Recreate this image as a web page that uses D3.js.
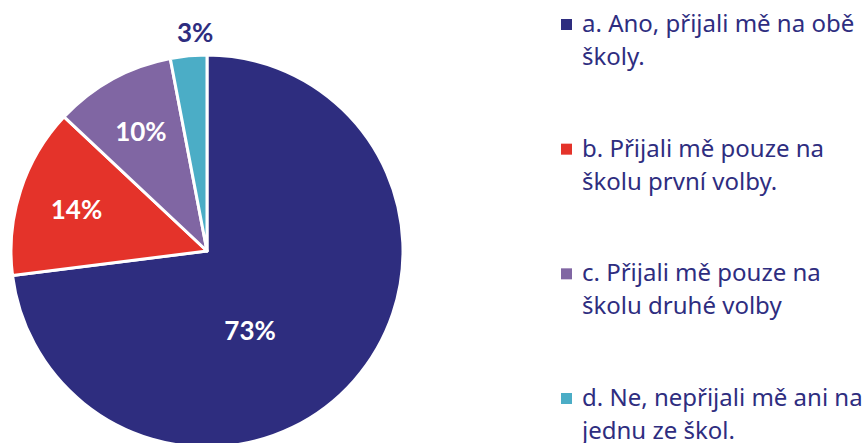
<!DOCTYPE html>
<html>
    <head>
        <meta charset="utf-8">
        <title>Přijetí na školy</title>
        <script type="text/javascript" src="https://cdn.jsdelivr.net/npm/d3@7"></script>
        <style type="text/css">
            body { margin: 0; background: #fff; }
            .legend text { font-family: "Noto Sans", sans-serif; font-size: 24px; fill: #2e2d7f; }
            .label { font-family: Lato, sans-serif; font-weight: bold; font-size: 26px; }
        </style>
    </head>
    <body>
        <script type="text/javascript">
            // Data
            var categories = ["a", "b", "c", "d"];
            var values = [73, 14, 10, 3];
            var valueLabels = ["73%", "14%", "10%", "3%"];
            var legendLines = [
                ["a. Ano, přijali mě na obě", "školy."],
                ["b. Přijali mě pouze na", "školu první volby."],
                ["c. Přijali mě pouze na", "školu druhé volby"],
                ["d. Ne, nepřijali mě ani na", "jednu ze škol."]
            ];

            var w = 868;
            var h = 443;
            var cx = 207, cy = 251, r = 196;

            var color = d3.scaleOrdinal()
                .domain(categories)
                .range(["#2e2d7f", "#e4332a", "#8066a3", "#4badc6"]);

            var svg = d3.select("body")
                        .append("svg")
                        .attr("width", w)
                        .attr("height", h);

            var pie = d3.pie().sort(null).value(function(d){ return d.value; });
            var arcs = pie(categories.map(function(c, i){
                return {key: c, value: values[i], label: valueLabels[i]};
            }));

            var arc = d3.arc().innerRadius(0).outerRadius(r);
            var g = svg.append("g").attr("transform", "translate(" + cx + "," + cy + ")");

            g.selectAll("path")
                .data(arcs)
                .enter()
                .append("path")
                .attr("d", arc)
                .attr("fill", function(d){ return color(d.data.key); })
                .attr("stroke", "#fff")
                .attr("stroke-width", 3)
                .attr("stroke-linejoin", "round");

            // labels: inside for big slices, outside for small ones
            var labelPos = function(d){
                var a = (d.startAngle + d.endAngle) / 2;
                var lr;
                if (d.data.value < 5) { lr = r * 1.12; a += 0.04; }
                else if (d.data.value > 50) { lr = r * 0.46; a += 0.35; } // big slice label sits lower
                else { lr = r * 0.7; }
                return [Math.sin(a) * lr, -Math.cos(a) * lr];
            };

            g.selectAll("text.label")
                .data(arcs)
                .enter()
                .append("text")
                .attr("class", "label")
                .attr("text-anchor", "middle")
                .attr("dominant-baseline", "central")
                .attr("x", function(d){ return labelPos(d)[0]; })
                .attr("y", function(d){ return labelPos(d)[1]; })
                .attr("fill", function(d){ return d.data.value < 5 ? "#2e2d7f" : "#fff"; })
                .text(function(d){ return d.data.label; });

            // Legend
            var legendY = d3.scalePoint()
                .domain(categories)
                .range([32, 406]);

            var legend = svg.append("g").attr("class", "legend");
            var items = legend.selectAll("g")
                .data(categories)
                .enter()
                .append("g")
                .attr("transform", function(d){ return "translate(561," + legendY(d) + ")"; });

            items.append("rect")
                .attr("x", 0)
                .attr("y", -13)
                .attr("width", 11)
                .attr("height", 11)
                .attr("fill", function(d){ return color(d); });

            items.append("text")
                .selectAll("tspan")
                .data(function(d, i){ return legendLines[i]; })
                .enter()
                .append("tspan")
                .attr("x", 21)
                .attr("y", function(d, i){ return i * 33; })
                .text(function(d){ return d; });
        </script>
    </body>
</html>
